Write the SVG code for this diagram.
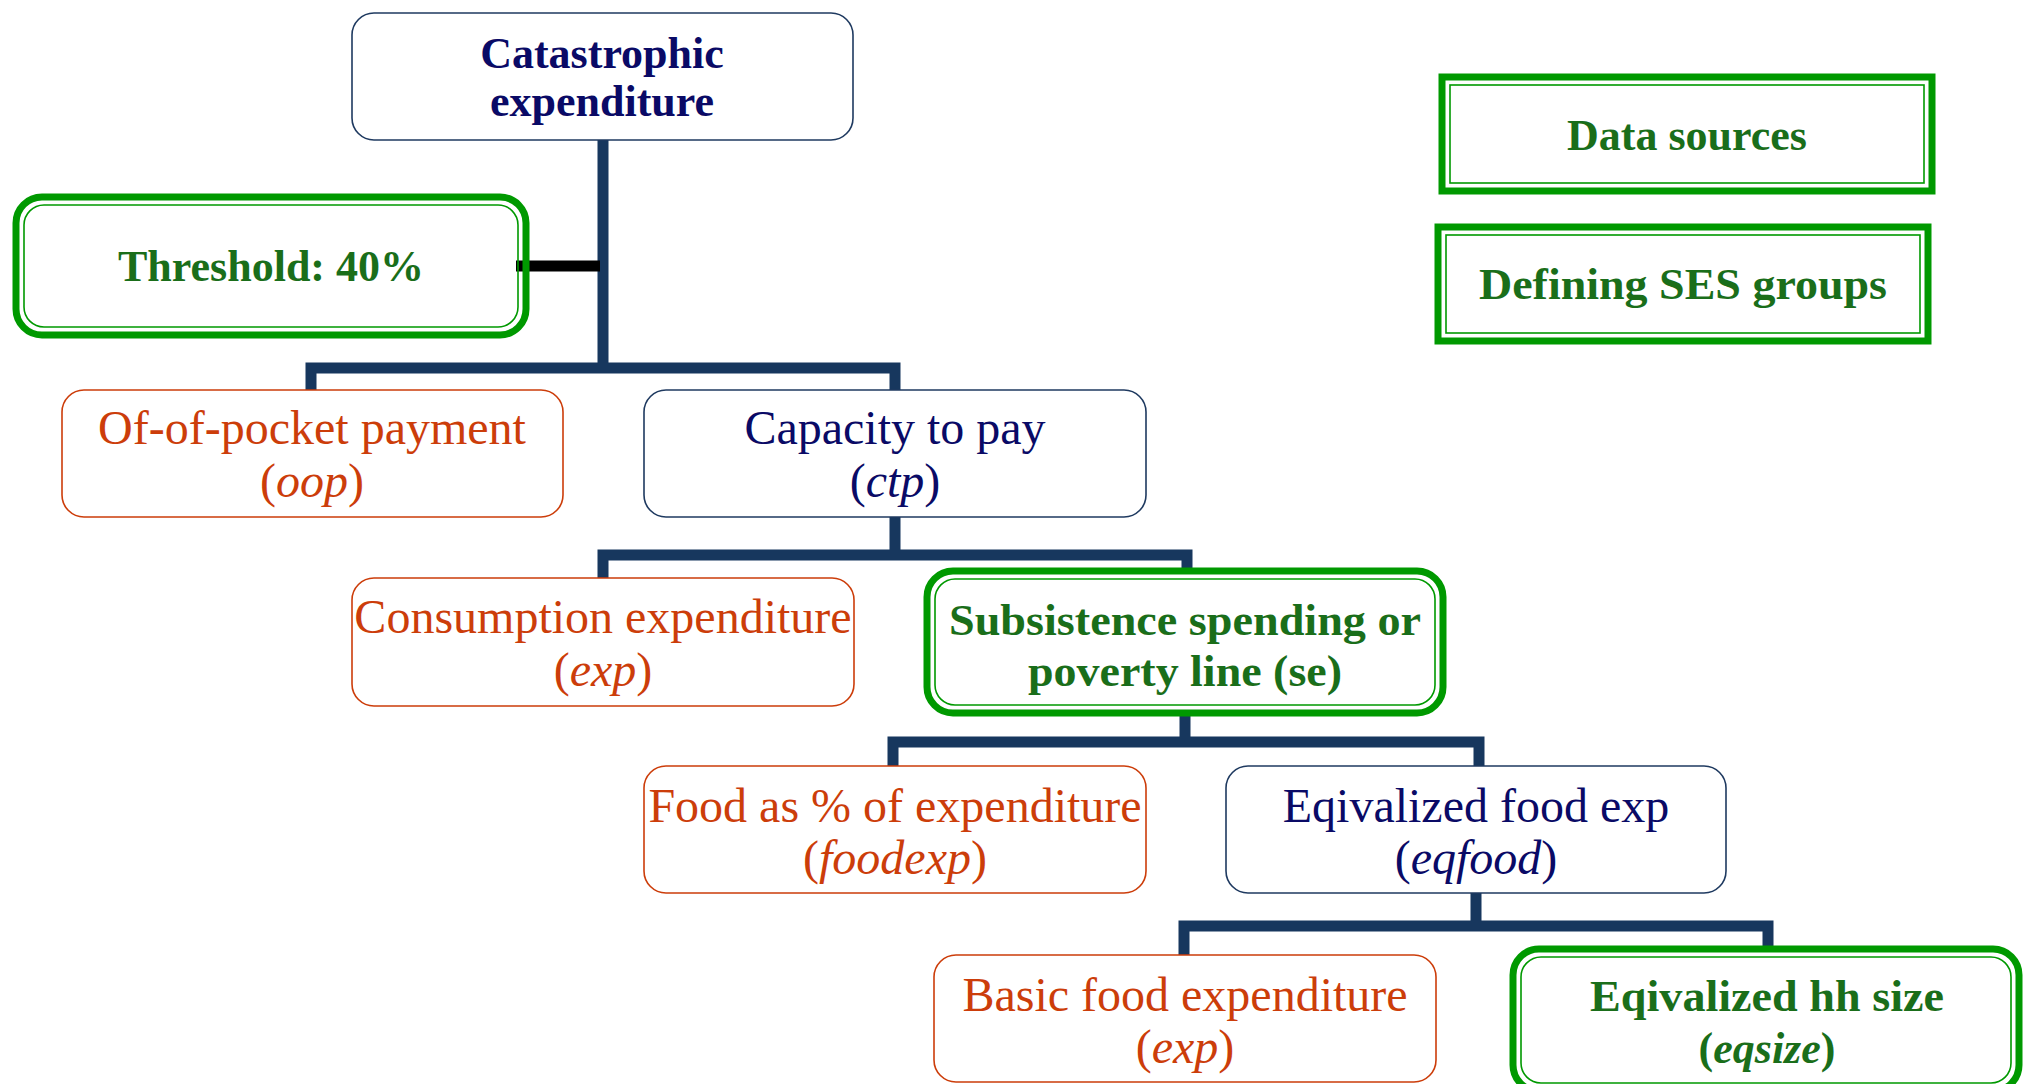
<svg xmlns="http://www.w3.org/2000/svg" width="2023" height="1084" viewBox="0 0 2023 1084">
<style>
text{font-family:"Liberation Serif","Times New Roman",serif;text-anchor:middle}
.nb{fill:none;stroke:#1F3A60;stroke-width:1.6}
.ob{fill:none;stroke:#CC3D0A;stroke-width:1.6}
.go{fill:none;stroke:#009900;stroke-width:7}
.gi{fill:none;stroke:#009900;stroke-width:1.6}
.tn{fill:#0A0A66;font-size:48px}
.tnb{fill:#0A0A66;font-size:44px;font-weight:bold}
.to{fill:#CC3D0A;font-size:48px}
.tg{fill:#1A6E1A;font-size:44px;font-weight:bold}
.i{font-style:italic}
.c{fill:none;stroke:#17375E;stroke-width:11}
</style>
<g id="connectors">
<path class="c" d="M603 140V368M311 390V368H895V390"/>
<path d="M516 266H600" stroke="#000" stroke-width="11" fill="none"/>
<path class="c" d="M895 517V555M603 578V555H1187V568"/>
<path class="c" d="M1185 716V742M893 766V742H1479V766"/>
<path class="c" d="M1476 893V926M1184 955V926H1768V949"/>
</g>
<g id="catastrophic">
<rect class="nb" x="352" y="13" width="501" height="127" rx="22"/>
<text class="tnb" x="602" y="68">Catastrophic</text>
<text class="tnb" x="602" y="116">expenditure</text>
</g>
<g id="threshold">
<rect class="go" x="16" y="197" width="510" height="138" rx="26"/>
<rect class="gi" x="24" y="205" width="494" height="122" rx="20"/>
<text class="tg" x="271" y="281">Threshold: 40%</text>
</g>
<g id="oop">
<rect class="ob" x="62" y="390" width="501" height="127" rx="22"/>
<text class="to" x="312" y="444">Of-of-pocket payment</text>
<text class="to" x="312" y="497">(<tspan class="i">oop</tspan>)</text>
</g>
<g id="ctp">
<rect class="nb" x="644" y="390" width="502" height="127" rx="22"/>
<text class="tn" x="895" y="444">Capacity to pay</text>
<text class="tn" x="895" y="497">(<tspan class="i">ctp</tspan>)</text>
</g>
<g id="exp">
<rect class="ob" x="352" y="578" width="502" height="128" rx="22"/>
<text class="to" x="603" y="633">Consumption expenditure</text>
<text class="to" x="603" y="686">(<tspan class="i">exp</tspan>)</text>
</g>
<g id="se">
<rect class="go" x="927" y="571" width="516" height="142" rx="26"/>
<rect class="gi" x="935" y="579" width="500" height="126" rx="20"/>
<text class="tg" x="1185" y="635" textLength="472" lengthAdjust="spacingAndGlyphs">Subsistence spending or</text>
<text class="tg" x="1185" y="686" textLength="314" lengthAdjust="spacingAndGlyphs">poverty line (se)</text>
</g>
<g id="foodexp">
<rect class="ob" x="644" y="766" width="502" height="127" rx="22"/>
<text class="to" x="895" y="822">Food as % of expenditure</text>
<text class="to" x="895" y="874">(<tspan class="i">foodexp</tspan>)</text>
</g>
<g id="eqfood">
<rect class="nb" x="1226" y="766" width="500" height="127" rx="22"/>
<text class="tn" x="1476" y="822">Eqivalized food exp</text>
<text class="tn" x="1476" y="874">(<tspan class="i">eqfood</tspan>)</text>
</g>
<g id="basic">
<rect class="ob" x="934" y="955" width="502" height="127" rx="22"/>
<text class="to" x="1185" y="1011">Basic food expenditure</text>
<text class="to" x="1185" y="1063">(<tspan class="i">exp</tspan>)</text>
</g>
<g id="eqsize">
<rect class="go" x="1513" y="949" width="506" height="142" rx="26"/>
<rect class="gi" x="1521" y="957" width="490" height="126" rx="20"/>
<text class="tg" x="1767" y="1011" textLength="354" lengthAdjust="spacingAndGlyphs">Eqivalized hh size</text>
<text class="tg" x="1767" y="1063">(<tspan class="i">eqsize</tspan>)</text>
</g>
<g id="datasources">
<rect class="go" x="1442" y="77" width="490" height="114"/>
<rect class="gi" x="1450" y="85" width="474" height="98"/>
<text class="tg" x="1687" y="150">Data sources</text>
</g>
<g id="ses">
<rect class="go" x="1438" y="227" width="490" height="114"/>
<rect class="gi" x="1446" y="235" width="474" height="98"/>
<text class="tg" x="1683" y="299" textLength="408" lengthAdjust="spacingAndGlyphs">Defining SES groups</text>
</g>
</svg>
